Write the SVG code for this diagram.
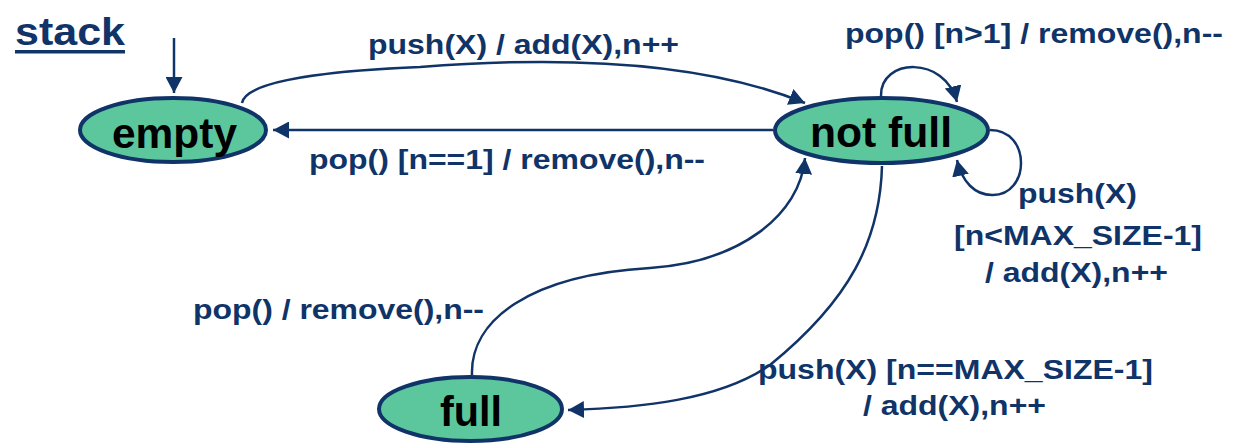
<svg xmlns="http://www.w3.org/2000/svg" width="1242" height="444" viewBox="0 0 1242 444">
<style>
.node{fill:#5cc79c;stroke:#103468;stroke-width:4}
.nt{font-family:"Liberation Sans",Arial,sans-serif;font-weight:bold;font-size:43px;fill:#000;text-anchor:middle}
.lb{font-family:"Liberation Sans",Arial,sans-serif;font-weight:bold;font-size:28px;fill:#103468}
.c{fill:none;stroke:#103468;stroke-width:2.5}
</style>
<defs>
<marker id="ah" markerUnits="userSpaceOnUse" viewBox="0 0 16 17" refX="16" refY="8.5" markerWidth="16" markerHeight="17" orient="auto">
<path d="M0,0 L16,8.5 L0,17 z" fill="#103468"/>
</marker>
</defs>
<rect width="1242" height="444" fill="#fff"/>
<g id="title">
<text x="15" y="45" class="lb" style="font-size:38px" textLength="110" lengthAdjust="spacingAndGlyphs">stack</text>
<rect x="15" y="50" width="110" height="3.5" fill="#103468"/>
</g>
<g id="connectors">
<path class="c" d="M174,38 L174,93" marker-end="url(#ah)"/>
<path class="c" d="M242,103 C245,85 300,72 420,67 C560,56 700,60 805,103" marker-end="url(#ah)"/>
<path class="c" d="M773,130 L273,130" marker-end="url(#ah)"/>
<path class="c" d="M881,96 C880,58 945,55 957,102" marker-end="url(#ah)"/>
<path class="c" d="M990,130 C1032,130 1030,196 992,195 C975,195 962,182 957,160" marker-end="url(#ah)"/>
<path class="c" d="M472,375 C470,320 530,275 650,268 C740,262 800,215 805,158" marker-end="url(#ah)"/>
<path class="c" d="M882,166 C880,240 850,300 770,365 C720,400 640,408 568,410" marker-end="url(#ah)"/>
</g>
<g id="labels">
<text class="lb" x="368" y="54" textLength="311" lengthAdjust="spacingAndGlyphs">push(X) / add(X),n++</text>
<text class="lb" x="309" y="169" textLength="396" lengthAdjust="spacingAndGlyphs">pop() [n==1] / remove(),n--</text>
<text class="lb" x="845" y="43" textLength="378" lengthAdjust="spacingAndGlyphs">pop() [n&gt;1] / remove(),n--</text>
<text class="lb" x="1018" y="203" textLength="119" lengthAdjust="spacingAndGlyphs">push(X)</text>
<text class="lb" x="954" y="245" textLength="248" lengthAdjust="spacingAndGlyphs">[n&lt;MAX_SIZE-1]</text>
<text class="lb" x="985" y="282" textLength="183" lengthAdjust="spacingAndGlyphs">/ add(X),n++</text>
<text class="lb" x="193" y="319" textLength="291" lengthAdjust="spacingAndGlyphs">pop() / remove(),n--</text>
<text class="lb" x="758" y="379" textLength="395" lengthAdjust="spacingAndGlyphs">push(X) [n==MAX_SIZE-1]</text>
<text class="lb" x="863" y="415" textLength="183" lengthAdjust="spacingAndGlyphs">/ add(X),n++</text>
</g>
<g id="empty">
<ellipse class="node" cx="173" cy="130" rx="93" ry="32"/>
<text class="nt" x="174.5" y="148" textLength="125" lengthAdjust="spacingAndGlyphs">empty</text>
</g>
<g id="notfull">
<ellipse class="node" cx="881.5" cy="130.5" rx="106.5" ry="32.5"/>
<text class="nt" x="881" y="147" textLength="142" lengthAdjust="spacingAndGlyphs">not full</text>
</g>
<g id="full">
<ellipse class="node" cx="470.5" cy="409" rx="91.5" ry="32"/>
<text class="nt" x="471" y="426" textLength="62" lengthAdjust="spacingAndGlyphs">full</text>
</g>
</svg>
